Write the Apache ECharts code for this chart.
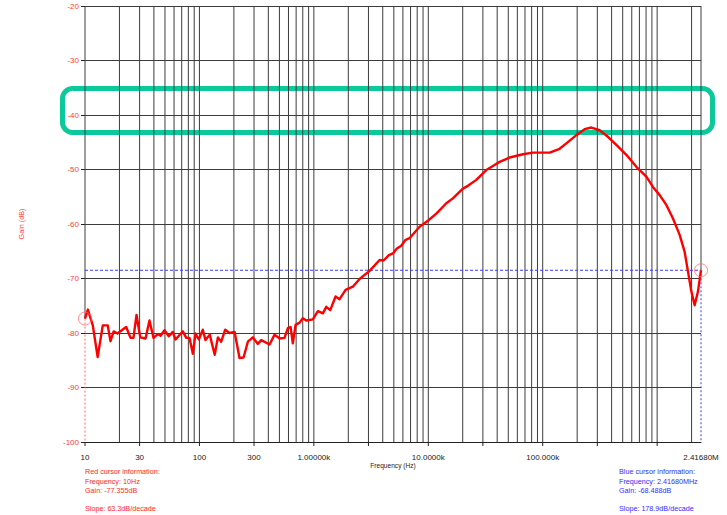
<!DOCTYPE html>
<html>
<head>
<meta charset="utf-8">
<script src="https://cdn.jsdelivr.net/npm/echarts@6/dist/echarts.min.js"></script>
<style>
  html, body { margin: 0; padding: 0; background: #ffffff; }
  #chart { width: 727px; height: 515px; }
</style>
</head>
<body>
<div id="chart"></div>
<script>
// Measured gain response (Hz, dB)
const freqHz = [
  10, 10.6, 11.7, 12.9, 14.3, 15.8, 16.7, 17.8, 19.2, 22.9,
  25.0, 26.5, 28.2, 30.4, 33.8, 36.6, 39.7, 43.3, 45.7, 49.5,
  54.0, 58.5, 61.8, 71.6, 76.7, 81.9, 87.6, 92.5, 98.8, 107,
  113, 123, 136, 145, 155, 168, 183, 203, 224, 243,
  265, 293, 324, 347, 410, 454, 501, 554, 593, 626,
  655, 692, 750, 801, 858, 980, 1084, 1199, 1284, 1391,
  1548, 1678, 1893, 2192, 2509, 3069, 3753, 4067, 4523, 4905,
  5315, 5808, 6333, 6863, 8391, 9920, 11750, 14370, 16410, 20060,
  22190, 26270, 32140, 37000, 42010, 51370, 67130, 82100, 114900, 140500,
  160800, 196700, 232400, 266000, 314300, 371500, 439900, 538000, 657900, 804600,
  919000, 1052000, 1203000, 1375000, 1573000, 1739000, 1859000, 1991000, 2127000, 2273000,
  2416800
];
const gainDb = [
  -77.355, -75.7, -78.6, -84.4, -78.6, -78.6, -81.5, -79.7, -80.1, -78.9,
  -80.9, -80.9, -76.7, -80.8, -81.0, -77.7, -80.9, -80.2, -80.5, -79.5,
  -80.6, -79.8, -81.2, -79.7, -80.9, -80.9, -83.8, -80.1, -81.2, -79.4,
  -81.3, -80.3, -84.0, -80.8, -81.6, -79.4, -80.0, -79.8, -84.6, -84.5,
  -81.6, -80.8, -82.0, -81.3, -82.1, -80.3, -81.0, -80.9, -79.1, -78.9,
  -81.9, -78.5, -78.1, -77.3, -77.7, -77.5, -76.0, -76.4, -75.2, -75.8,
  -73.3, -73.8, -72.1, -71.5, -70.1, -68.6, -66.6, -66.7, -65.7, -65.4,
  -64.5, -64.0, -62.9, -62.6, -60.5, -59.4, -58.1, -56.2, -55.3, -53.5,
  -53.0, -51.9, -50.1, -49.3, -48.6, -47.8, -47.2, -46.9, -46.9, -46.2,
  -45.2, -43.7, -42.6, -42.3, -42.8, -44.0, -45.5, -47.3, -49.5, -51.3,
  -53.2, -54.7, -56.5, -59.0, -62.0, -65.1, -68.7, -72.4, -74.9, -72.4,
  -68.488
];

// Axis layout values
const gainRange = [-100, -20];
const gainStep = 10;
const freqRange = [10, 2416800];
const freqTickValues = [10, 30, 100, 300, 1000, 10000, 100000, 2416800];
const freqTickLabels = ['10', '30', '100', '300', '1.00000k', '10.0000k', '100.000k', '2.41680M'];
const freqTickMarks = [10, 30, 100, 300, 1000, 3000, 10000, 30000, 100000, 300000, 1000000];
const gridDecades = [10, 100, 1000, 10000, 100000, 1000000];
const gridSteps = [1, 2, 3, 4, 5, 6, 7, 8, 9];

// Cursors: [frequency Hz, gain dB]
const redCursor = [10, -77.355];
const blueCursor = [2416800, -68.488];
const redCursorText = ['Red cursor information:', 'Frequency: 10Hz', 'Gain: -77.355dB', '', 'Slope: 63.3dB/decade'];
const blueCursorText = ['Blue cursor information:', 'Frequency: 2.41680MHz', 'Gain: -68.488dB', '', 'Slope: 178.9dB/decade'];

// Highlighted gain band (dB)
const focusBandDb = [-35.15, -43.2];

const FONT = "'Liberation Sans', Arial, Helvetica, sans-serif";
const GRID_COLOR = '#3c3c3c';

const gridFreqs = [];
gridDecades.forEach(d => gridSteps.forEach(s => {
  const v = d * s;
  if (v > freqRange[0] && v < freqRange[1]) gridFreqs.push([v]);
}));

const curve = freqHz.map((f, i) => [f, gainDb[i]]);

const chart = echarts.init(document.getElementById('chart'), null, { renderer: 'svg' });

chart.setOption({
  backgroundColor: '#ffffff',
  animation: false,
  grid: { left: 85, right: 26, top: 6, bottom: 73, containLabel: false },
  xAxis: {
    type: 'log',
    logBase: 10,
    min: freqRange[0],
    max: freqRange[1],
    name: 'Frequency (Hz)',
    nameLocation: 'middle',
    nameGap: 20,
    nameTextStyle: { color: '#222222', fontSize: 6.6, fontFamily: FONT },
    axisLine: { show: true, lineStyle: { color: '#222222', width: 1 } },
    axisTick: { show: false },
    axisLabel: { show: false },
    splitLine: { show: false },
    minorSplitLine: { show: false }
  },
  yAxis: {
    type: 'value',
    min: gainRange[0],
    max: gainRange[1],
    interval: gainStep,
    name: 'Gain (dB)',
    nameLocation: 'middle',
    nameRotate: 90,
    nameGap: 60,
    nameTextStyle: { color: '#ff3b3b', fontSize: 7.2, fontFamily: FONT },
    axisLine: { show: false },
    axisTick: { show: true, length: 4, lineStyle: { color: '#222222' } },
    axisLabel: { color: '#ff3b3b', fontSize: 8, fontFamily: FONT, margin: 6 },
    splitLine: { show: true, lineStyle: { color: GRID_COLOR, width: 1 } }
  },
  series: [
    {
      // vertical grid lines at 1..9 per decade
      type: 'custom',
      silent: true,
      z: 1,
      data: gridFreqs,
      renderItem: (params, api) => {
        const f = api.value(0);
        const top = api.coord([f, gainRange[1]]);
        const bot = api.coord([f, gainRange[0]]);
        return {
          type: 'line',
          shape: { x1: top[0], y1: top[1], x2: bot[0], y2: bot[1] },
          style: { stroke: GRID_COLOR, lineWidth: 1 }
        };
      }
    },
    {
      // frequency tick marks below the axis
      type: 'custom',
      silent: true,
      z: 1,
      data: freqTickMarks.map(v => [v]),
      renderItem: (params, api) => {
        const p = api.coord([api.value(0), gainRange[0]]);
        return {
          type: 'line',
          shape: { x1: p[0], y1: p[1], x2: p[0], y2: p[1] + 4 },
          style: { stroke: '#222222', lineWidth: 1 }
        };
      }
    },
    {
      // frequency tick labels
      type: 'custom',
      silent: true,
      z: 1,
      data: freqTickValues.map((v, i) => [v, i]),
      renderItem: (params, api) => {
        const p = api.coord([api.value(0), gainRange[0]]);
        return {
          type: 'text',
          x: p[0],
          y: p[1] + 15,
          style: {
            text: freqTickLabels[api.value(1)],
            fill: '#222222',
            fontSize: 8,
            fontFamily: FONT,
            align: 'center',
            verticalAlign: 'middle'
          }
        };
      }
    },
    {
      // cursor lines
      type: 'custom',
      silent: true,
      z: 3,
      data: [[redCursor[0], redCursor[1], 0], [blueCursor[0], blueCursor[1], 1]],
      renderItem: (params, api) => {
        const f = api.value(0), g = api.value(1), isBlue = api.value(2) === 1;
        const top = api.coord([f, gainRange[1]]);
        const mid = api.coord([f, g]);
        const bot = api.coord([f, gainRange[0]]);
        const color = isBlue ? '#3a3aff' : '#ff6a6a';
        const children = [
          { type: 'line', shape: { x1: top[0], y1: top[1], x2: mid[0], y2: mid[1] },
            style: { stroke: GRID_COLOR, lineWidth: 1 } },
          { type: 'line', shape: { x1: mid[0], y1: mid[1], x2: bot[0], y2: bot[1] },
            style: { stroke: color, lineWidth: 1, lineDash: [2, 2] } }
        ];
        if (isBlue) {
          const left = api.coord([freqRange[0], g]);
          children.push({ type: 'line', shape: { x1: left[0], y1: left[1], x2: mid[0], y2: mid[1] },
            style: { stroke: color, lineWidth: 1, lineDash: [3, 2] } });
        }
        return { type: 'group', children };
      }
    },
    {
      name: 'Gain',
      type: 'line',
      data: curve,
      showSymbol: false,
      symbol: 'none',
      smooth: false,
      z: 5,
      lineStyle: { color: '#ff0000', width: 2.4, join: 'round' }
    },
    {
      // cursor markers
      type: 'scatter',
      silent: true,
      z: 6,
      data: [redCursor, blueCursor],
      symbol: 'circle',
      symbolSize: 13,
      itemStyle: { color: 'rgba(255,255,255,0)', borderColor: '#ff7070', borderWidth: 1 }
    }
  ]
});

// Annotation box around the focus band and cursor read-outs
const pLeftTop = chart.convertToPixel({ gridIndex: 0 }, [freqRange[0], focusBandDb[0]]);
const pRightBot = chart.convertToPixel({ gridIndex: 0 }, [freqRange[1], focusBandDb[1]]);
const bottomLeft = chart.convertToPixel({ gridIndex: 0 }, [freqRange[0], gainRange[0]]);

const infoLineY = [30, 39.5, 49, null, 67];
const textGraphics = [];
redCursorText.forEach((t, i) => {
  if (!t) return;
  textGraphics.push({
    type: 'text', left: bottomLeft[0], top: bottomLeft[1] + infoLineY[i] - 4,
    style: { text: t, fill: '#ff2a2a', fontSize: 7.2, fontFamily: FONT }
  });
});
blueCursorText.forEach((t, i) => {
  if (!t) return;
  textGraphics.push({
    type: 'text', left: 619, top: bottomLeft[1] + infoLineY[i] - 4,
    style: { text: t, fill: '#2f2fff', fontSize: 7.2, fontFamily: FONT }
  });
});

chart.setOption({
  graphic: [
    {
      type: 'rect',
      z: 0,
      silent: true,
      shape: {
        x: pLeftTop[0] - 22.5,
        y: pLeftTop[1],
        width: (pRightBot[0] + 11.5) - (pLeftTop[0] - 22.5),
        height: pRightBot[1] - pLeftTop[1],
        r: 10
      },
      style: { fill: 'none', stroke: '#0cc99b', lineWidth: 5 }
    }
  ].concat(textGraphics)
});
</script>
</body>
</html>
